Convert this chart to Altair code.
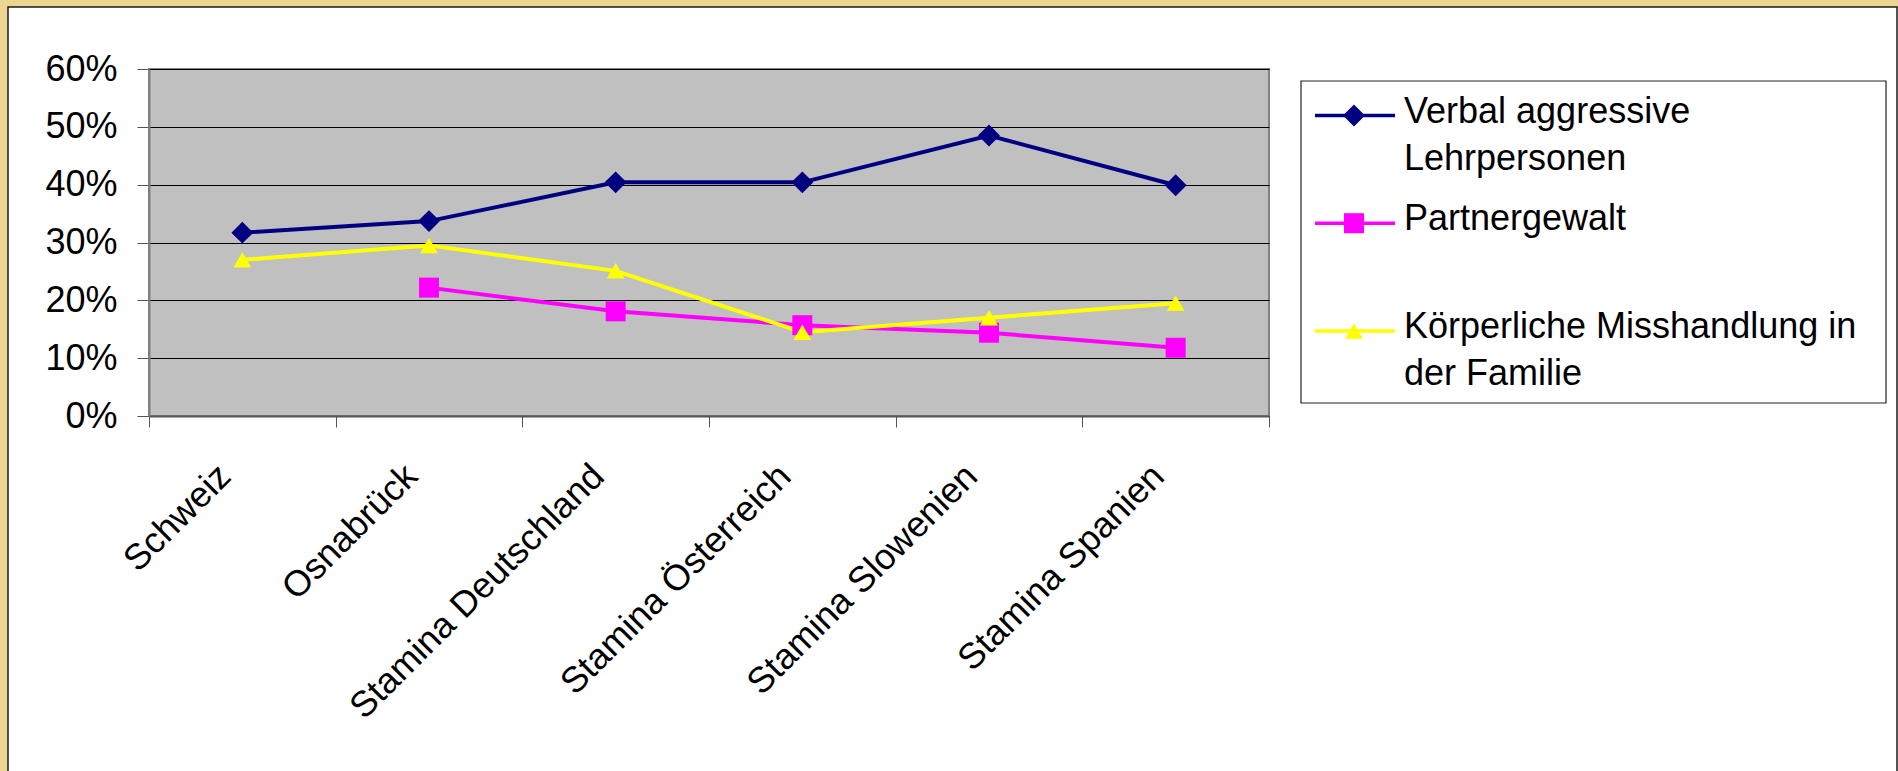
import altair as alt
import pandas as pd

# ---- data -------------------------------------------------------------
CATEGORIES = [
    "Schweiz",
    "Osnabrück",
    "Stamina Deutschland",
    "Stamina Österreich",
    "Stamina Slowenien",
    "Stamina Spanien",
]
SERIES = [
    "Verbal aggressive Lehrpersonen",
    "Partnergewalt",
    "Körperliche Misshandlung in der Familie",
]
LEGEND_TEXT = [
    "Verbal aggressive\nLehrpersonen",
    "Partnergewalt",
    "Körperliche Misshandlung in\nder Familie",
]
VERBAL = [31.7, 33.7, 40.4, 40.4, 48.5, 39.9]
PARTNER = [None, 22.2, 18.1, 15.7, 14.4, 11.8]
KOERPER = [27.0, 29.5, 25.1, 14.5, 17.0, 19.5]
COLORS = ["#000080", "#FF00FF", "#FFFF00"]
SHAPES = ["diamond", "square", "triangle-up"]
MARKER_SIZES = [480, 320, 480]
Y_TICKS = [0, 10, 20, 30, 40, 50, 60]

# ---- layout -----------------------------------------------------------
W, H = 1120, 347
PAD = {"left": 149, "top": 69, "right": 629, "bottom": 355}
FONT = "Liberation Sans"
GOLD = "#EDD592"

rows = []
for name, values in zip(SERIES, [VERBAL, PARTNER, KOERPER]):
    for i, (cat, v) in enumerate(zip(CATEGORIES, values)):
        if v is not None:
            rows.append({"cat": cat, "series": name, "value": v, "pos": i})
df = pd.DataFrame(rows)

legend_df = pd.DataFrame(
    {"series": SERIES, "label": LEGEND_TEXT, "idx": list(range(len(SERIES)))}
)
one = pd.DataFrame({"k": [0]})

color_scale = alt.Scale(domain=SERIES, range=COLORS)
shape_scale = alt.Scale(domain=SERIES, range=SHAPES)
size_scale = alt.Scale(domain=SERIES, range=MARKER_SIZES)

x_enc = alt.X(
    "cat:N",
    sort=CATEGORIES,
    scale=alt.Scale(type="band", domain=CATEGORIES, paddingInner=0, paddingOuter=0),
    axis=alt.Axis(
        title=None,
        labelAngle=-45,
        labelAlign="right",
        labelBaseline="alphabetic",
        labelPadding=51,
        labelOffset=-10,
        labelFont=FONT,
        labelFontSize=36,
        labelColor="black",
        labelLimit=1000,
        labelOverlap=False,
        tickBand="extent",
        tickSize=11,
        tickColor="#555555",
        domainColor="#555555",
        domainWidth=2,
        grid=False,
    ),
)
y_enc = alt.Y(
    "value:Q",
    scale=alt.Scale(domain=[0, 60], nice=False),
    axis=alt.Axis(
        title=None,
        values=Y_TICKS,
        labelExpr="datum.value + '%'",
        labelFont=FONT,
        labelFontSize=36,
        labelColor="black",
        labelPadding=20,
        tickSize=12,
        tickColor="#555555",
        domainColor="#808080",
        domainWidth=2,
        grid=True,
        gridColor="black",
        gridWidth=1,
    ),
)

base = alt.Chart(df)
lines = base.mark_line(strokeWidth=4).encode(
    x=x_enc,
    y=y_enc,
    color=alt.Color("series:N", scale=color_scale, legend=None),
    order=alt.Order("pos:Q"),
)
points = base.mark_point(filled=True, opacity=1).encode(
    x=alt.X("cat:N", sort=CATEGORIES),
    y=alt.Y("value:Q"),
    color=alt.Color("series:N", scale=color_scale, legend=None),
    shape=alt.Shape("series:N", scale=shape_scale, legend=None),
    size=alt.Size("series:N", scale=size_scale, legend=None),
)
plot = alt.layer(lines, points)

# ---- legend box ---------------------------------------------------------
LX0, LX1, LY0, LY1 = 1152, 1737, 12, 334
ROW0, ROW_STEP = 46.5, 107.7
leg = alt.Chart(legend_df).transform_calculate(
    ly="%f + %f * datum.idx" % (ROW0, ROW_STEP),
    ty="%f + %f * datum.idx + 7" % (ROW0, ROW_STEP),
)
leg_box = alt.Chart(one).mark_rect(
    fill="white", stroke="#222222", strokeWidth=1.2
).encode(
    x=alt.value(LX0), x2=alt.value(LX1), y=alt.value(LY0), y2=alt.value(LY1)
)
leg_lines = leg.mark_rule(strokeWidth=3.5).encode(
    x=alt.value(1166),
    x2=alt.value(1246),
    y=alt.Y("ly:Q", scale=None, axis=None),
    color=alt.Color("series:N", scale=color_scale, legend=None),
)
leg_marks = leg.mark_point(filled=True, opacity=1).encode(
    x=alt.value(1205),
    y=alt.Y("ly:Q", scale=None, axis=None),
    color=alt.Color("series:N", scale=color_scale, legend=None),
    shape=alt.Shape("series:N", scale=shape_scale, legend=None),
    size=alt.Size("series:N", scale=size_scale, legend=None),
)
leg_text = leg.mark_text(
    align="left",
    baseline="alphabetic",
    font=FONT,
    fontSize=36,
    color="black",
    lineBreak="\n",
    lineHeight=47,
).encode(
    x=alt.value(1255),
    y=alt.Y("ty:Q", scale=None, axis=None),
    text="label:N",
)

# ---- golden frame around the white sheet -------------------------------
frame_top = alt.Chart(one).mark_rect(fill=GOLD).encode(
    x=alt.value(-PAD["left"]), x2=alt.value(W + PAD["right"]),
    y=alt.value(-PAD["top"]), y2=alt.value(-62),
)
frame_left = alt.Chart(one).mark_rect(fill=GOLD).encode(
    x=alt.value(-PAD["left"]), x2=alt.value(-141),
    y=alt.value(-PAD["top"]), y2=alt.value(H + PAD["bottom"]),
)
frame_line = alt.Chart(one).mark_rect(
    fillOpacity=0, stroke="#1a1a1a", strokeWidth=1.5
).encode(
    x=alt.value(-141), x2=alt.value(1748),
    y=alt.value(-62), y2=alt.value(H + PAD["bottom"] + 10),
)

chart = (
    alt.layer(
        plot, leg_box, leg_lines, leg_marks, leg_text,
        frame_top, frame_left, frame_line,
    )
    .resolve_scale(y="independent")
    .properties(width=W, height=H, padding=PAD, autosize=alt.AutoSizeParams(type="none"))
    .configure(background="white", font=FONT)
    .configure_view(fill="#C0C0C0", stroke="#808080", strokeWidth=2)
)

chart.save("out.html", embed_options={"renderer": "svg", "actions": False})
